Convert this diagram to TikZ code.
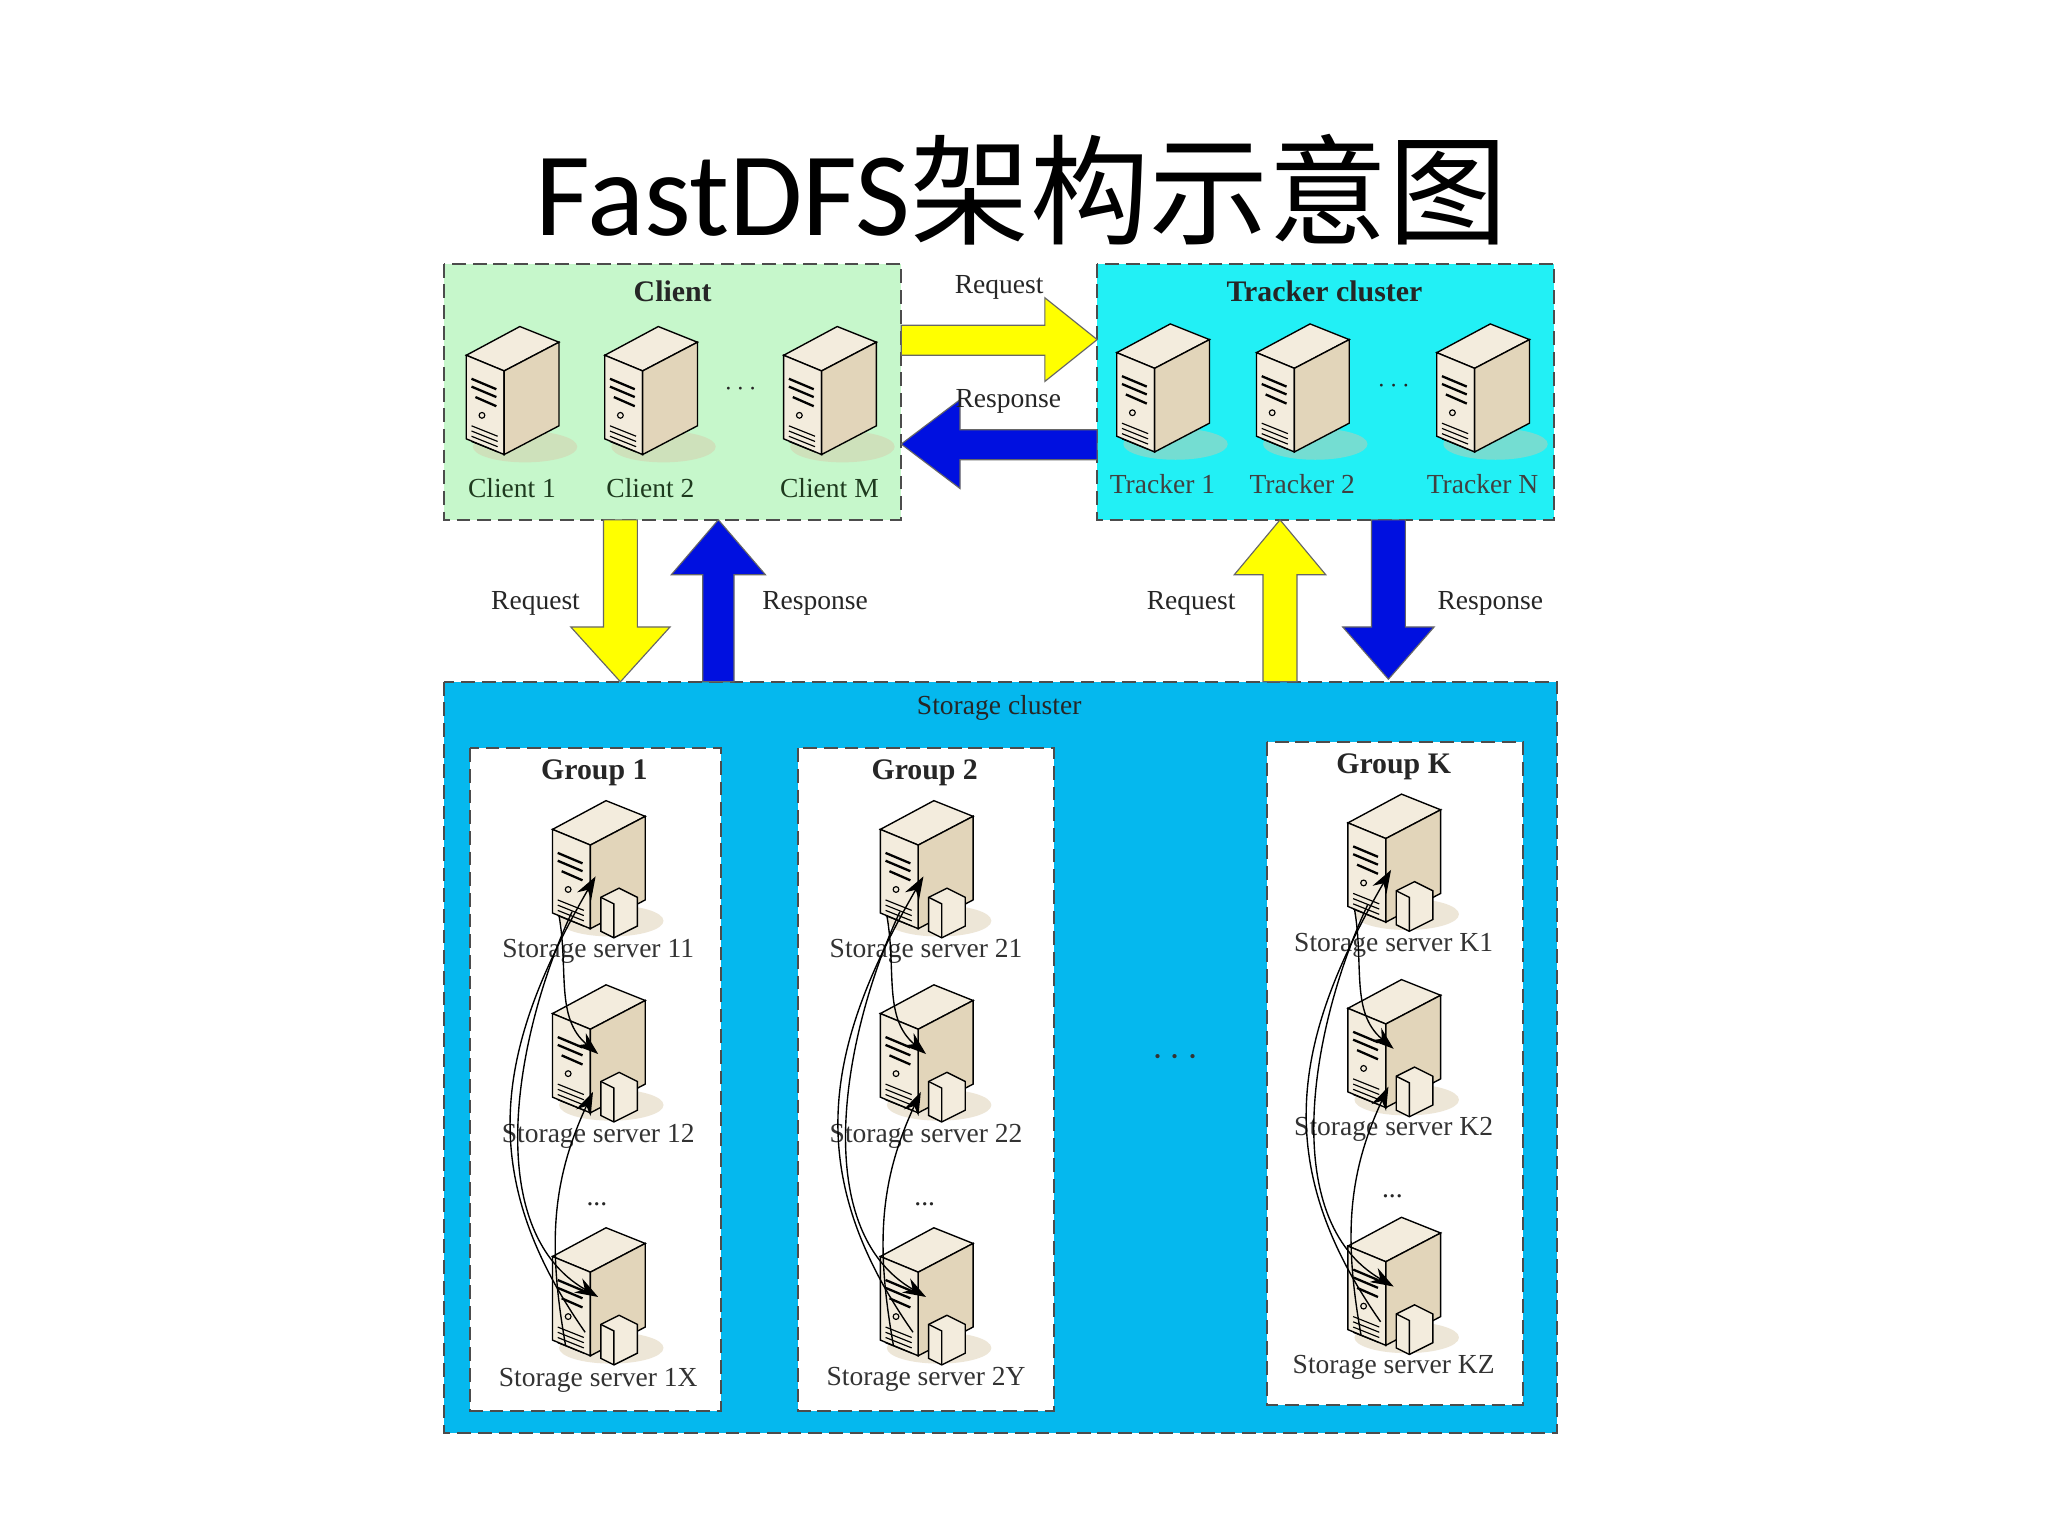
\documentclass[tikz,border=0pt]{standalone}
\usepackage{fontspec}
\setmainfont{Liberation Serif}
\newfontfamily\titlefont{Carlito}
\newfontfamily\cjk{Noto Sans CJK SC}
\usetikzlibrary{arrows.meta}
\definecolor{clientbg}{HTML}{C6F7CB}
\definecolor{trackbg}{HTML}{22F0F5}
\definecolor{storbg}{HTML}{05B8EE}
\definecolor{srvA}{HTML}{F3ECDD}
\definecolor{srvB}{HTML}{E2D5BA}
\definecolor{shadowc}{HTML}{D8C8A8}
\definecolor{txtgreen}{HTML}{1E3A1E}
\definecolor{yarrow}{HTML}{FFFF00}
\definecolor{barrow}{HTML}{0010E0}
\tikzset{
  x=0.02cm, y=-0.02cm,
  boxframe/.style={draw=black!70, dashed, dash pattern=on 6pt off 3pt, line width=0.8pt},
  lbl/.style={font=\fontsize{12}{14}\selectfont, text=black!85},
  hdr/.style={font=\fontsize{13}{15}\selectfont\bfseries, text=black!85},
  bigarrow/.style={draw=black!60, line width=0.5pt},
  link/.style={-{Stealth[length=10pt,width=7pt]}, line width=0.6pt},
  pics/server/.style={code={
    \fill[shadowc, opacity=0.45] (10,42) ellipse (40 and 12);
    \draw[fill=srvA, line width=0.6pt] (-35,-28) -- (6,-50) -- (36,-38) -- (-6,-16) -- cycle;
    \draw[fill=srvA, line width=0.6pt] (-35,-28) -- (-6,-16) -- (-6,48) -- (-35,36) -- cycle;
    \draw[fill=srvB, line width=0.6pt] (-6,-16) -- (36,-38) -- (36,26) -- (-6,48) -- cycle;
    \draw[line width=1pt] (-31,-10) -- (-12,-2) (-31,-4) -- (-12,4) (-28,4)--(-12,11);
    \draw[line width=0.5pt] (-23,18) circle (2.2);
    \foreach \k in {0,4,8,12} \draw[line width=0.5pt] (-31,26+\k) -- (-11,34+\k);
  }},
  pics/sfile/.style={code={
    \draw[fill=srvA, line width=0.6pt] (2,24) -- (16,17) -- (30,24) -- (30,46) -- (12,55) -- (2,50) -- cycle;
    \draw[line width=0.6pt] (2,24) -- (12,29) -- (12,55);
  }}
}
\begin{document}
\begin{tikzpicture}
\useasboundingbox[fill=white] (0,0) rectangle (1568,1176);
\node (title) at (782,145) {\fontsize{52}{58}\selectfont\titlefont FastDFS\cjk 架构示意图};

\draw[boxframe, fill=clientbg] (340,202) rectangle (690,398);
\draw[boxframe, fill=trackbg] (840,202) rectangle (1190,398);
\draw[boxframe, fill=storbg] (340,522) rectangle (1192,1097);
\node[hdr] (clienth) at (515,223) {Client};
\node[hdr] (trackh) at (1014,223) {Tracker cluster};
\node[lbl] (storh) at (765,542) {Storage cluster};

\foreach \n/\x/\t in {c1/392/Client 1, c2/498/Client 2, cm/635/Client M}{
  \pic at (\x,300) {server};
  \node[lbl, text=txtgreen] (\n) at (\x,374) {\t};
}
\node[lbl] (cdots) at (567,298) {\textbf{$\cdots$}};
\foreach \n/\x/\t in {t1/890/Tracker 1, t2/997/Tracker 2, tn/1135/Tracker N}{
  \pic at (\x,298) {server};
  \node[lbl, text=black!75] (\n) at (\x,371) {\t};
}
\node[lbl] (tdots) at (1067,296) {$\cdots$};

\draw[bigarrow, fill=yarrow] (690,249) -- (800,249) -- (800,228) -- (840,260) -- (800,292) -- (800,272) -- (690,272) -- cycle;
\draw[bigarrow, fill=barrow] (840,329) -- (735,329) -- (735,306) -- (690,340) -- (735,374) -- (735,352) -- (840,352) -- cycle;
\draw[bigarrow, fill=yarrow] (462,398) -- (462,480) -- (437,480) -- (475,522) -- (513,480) -- (488,480) -- (488,398) -- cycle;
\draw[bigarrow, fill=barrow] (538,522) -- (538,440) -- (514,440) -- (550,398) -- (586,440) -- (562,440) -- (562,522) -- cycle;
\draw[bigarrow, fill=yarrow] (967,522) -- (967,440) -- (945,440) -- (980,398) -- (1015,440) -- (993,440) -- (993,522) -- cycle;
\draw[bigarrow, fill=barrow] (1050,398) -- (1050,480) -- (1028,480) -- (1063,520) -- (1098,480) -- (1076,480) -- (1076,398) -- cycle;
\node[lbl] (l1) at (765,220) {Request};
\node[lbl] (l2) at (772,307) {Response};
\node[lbl] (l3) at (410,462) {Request};
\node[lbl] (l4) at (624,462) {Response};
\node[lbl] (l5) at (912,462) {Request};
\node[lbl] (l6) at (1141,462) {Response};

\draw[boxframe, fill=white] (360,573) rectangle (552,1080);
\draw[boxframe, fill=white] (611,573) rectangle (807,1080);
\draw[boxframe, fill=white] (970,568) rectangle (1166,1076);
\node[hdr] (g1) at (455,592) {Group 1};
\node[hdr] (g2) at (708,592) {Group 2};
\node[hdr] (gk) at (1067,587) {Group K};
\node[font=\fontsize{16}{18}\selectfont\bfseries, text=black!80] (mdots) at (900,810) {$\cdots$};

\foreach \g/\x/\ya/\yb/\yc/\la/\lb/\lc/\oa/\ob/\oc in {
  a/458/663/804/990/Storage server 11/Storage server 12/Storage server 1X/728/870/1057,
  b/709/663/804/990/Storage server 21/Storage server 22/Storage server 2Y/728/870/1056,
  k/1067/658/800/982/Storage server K1/Storage server K2/Storage server KZ/724/865/1047}{
  \pic at (\x,\ya) {server}; \pic at (\x,\ya) {sfile};
  \pic at (\x,\yb) {server}; \pic at (\x,\yb) {sfile};
  \pic at (\x,\yc) {server}; \pic at (\x,\yc) {sfile};
  \coordinate (\g1) at (\x,\ya);
  \coordinate (\g2) at (\x,\yb);
  \coordinate (\g3) at (\x,\yc);
  \node[lbl, text=black!80] (\g l1) at (\x,\oa) {\la};
  \node[lbl, text=black!80] (\g l2) at (\x,\ob) {\lb};
  \node[lbl, text=black!80] (\g l3) at (\x,\oc) {\lc};
  \node[lbl] (\g d) at (\x-1,{(\ob+\yc)/2-8}) {...};
  % long arc: last -> server 1
  \draw[link] ([shift={(-10,30)}]\g3) to[out=125, in=-120, looseness=1.1] ([shift={(-2,8)}]\g1);
  % server 1 -> server 2
  \draw[link] ([shift={(-30,38)}]\g1) to[out=-80, in=140] ([shift={(0,3)}]\g2);
  % last -> server 2 (lower head)
  \draw[link] ([shift={(-25,40)}]\g3) to[out=100, in=-115] ([shift={(-4,32)}]\g2);
  % server 1 -> last (long, reaching the last server)
  \draw[link] ([shift={(-20,35)}]\g1) to[out=-115, in=150, looseness=0.9] ([shift={(0,3)}]\g3);
}
\end{tikzpicture}
\end{document}
